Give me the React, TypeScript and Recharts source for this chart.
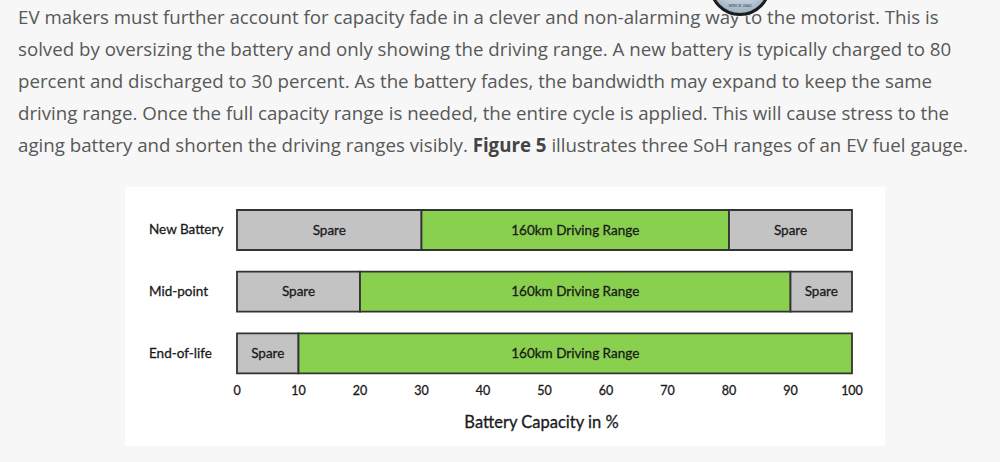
import React from 'react';
import { BarChart, Bar, XAxis, YAxis, LabelList, Label } from 'recharts';

const categories = ['New Battery', 'Mid-point', 'End-of-life'];
const spareLow = [30, 20, 10];
const driving = [50, 70, 90];
const spareHigh = [20, 10, 0];
const xTicks = [0, 10, 20, 30, 40, 50, 60, 70, 80, 90, 100];

const data = categories.map((name, i) => ({
  name,
  spareLow: spareLow[i],
  driving: driving[i],
  spareHigh: spareHigh[i],
}));

const GREY = '#c3c3c3';
const GREEN = '#8ad04f';
const EDGE = '#333333';
const INK = '#1a1a1a';
const chartFont = 'Lato, "Open Sans", sans-serif';

const inkStyle = { fontSize: 13.5, fill: INK, stroke: INK, strokeWidth: 0.3, fontFamily: chartFont };

const CategoryTick = (props: any) => {
  const { y, payload } = props;
  return (
    <text x={24} y={y} dy={4.5} textAnchor="start" style={inkStyle}>
      {payload.value}
    </text>
  );
};

const segLabel = (text: string) => (v: any) => (Number(v) > 0 ? text : '');

const App: React.FC = () => {
  return (
    <div
      style={{
        position: 'absolute',
        top: 0,
        left: 0,
        width: 1000,
        height: 462,
        background: '#f7f7f7',
        overflow: 'hidden',
      }}
    >
      <div
        style={{
          position: 'absolute',
          top: 1,
          left: 18,
          fontFamily: '"Open Sans", sans-serif',
          fontSize: 18.7,
          lineHeight: '32px',
          color: '#585858',
          whiteSpace: 'nowrap',
        }}
      >
        EV makers must further account for capacity fade in a clever and non-alarming way to the motorist. This is
        <br />
        solved by oversizing the battery and only showing the driving range. A new battery is typically charged to 80
        <br />
        percent and discharged to 30 percent. As the battery fades, the bandwidth may expand to keep the same
        <br />
        driving range. Once the full capacity range is needed, the entire cycle is applied. This will cause stress to the
        <br />
        aging battery and shorten the driving ranges visibly. <b style={{ color: '#444' }}>Figure 5</b> illustrates three SoH
        ranges of an EV fuel gauge.
      </div>

      {/* site badge peeking in at the top */}
      <div
        style={{
          position: 'absolute',
          left: 709,
          top: -46,
          width: 56,
          height: 56,
          borderRadius: '50%',
          border: '3px solid #1c1c1c',
          boxShadow: '0 0 0 1px #f7f7f7',
          background: 'radial-gradient(circle at 50% 35%, #eef3f7 0%, #b9c9d6 60%, #7f97ab 100%)',
        }}
      >
        <span
          style={{
            position: 'absolute',
            left: 0,
            right: 0,
            bottom: 5,
            textAlign: 'center',
            fontSize: 4.5,
            fontFamily: 'serif',
            color: '#1c1c1c',
          }}
        >
          SINCE 2003
        </span>
      </div>

      <div style={{ position: 'absolute', left: 125, top: 187, width: 760, height: 259, background: '#ffffff' }}>
        <BarChart
          width={760}
          height={259}
          data={data}
          layout="vertical"
          margin={{ top: 12, right: 33, bottom: 7, left: 0 }}
          barSize={40}
        >
          <XAxis
            type="number"
            domain={[0, 100]}
            ticks={xTicks}
            axisLine={false}
            tickLine={false}
            tickSize={0}
            tick={{ ...inkStyle, fontSize: 12.5 }}
            height={55}
          >
            <Label
              value="Battery Capacity in %"
              position="insideBottom"
              offset={11}
              dx={-3}
              style={{ ...inkStyle, fontSize: 16.5 }}
            />
          </XAxis>
          <YAxis
            type="category"
            dataKey="name"
            width={112}
            axisLine={false}
            tickLine={false}
            tick={<CategoryTick />}
          />
          <Bar dataKey="spareLow" stackId="a" fill={GREY} stroke={EDGE} strokeWidth={1.8} isAnimationActive={false}>
            <LabelList dataKey="spareLow" position="center" formatter={segLabel('Spare')} style={inkStyle} />
          </Bar>
          <Bar dataKey="driving" stackId="a" fill={GREEN} stroke={EDGE} strokeWidth={1.8} isAnimationActive={false}>
            <LabelList
              dataKey="driving"
              position="center"
              formatter={segLabel('160km Driving Range')}
              style={inkStyle}
            />
          </Bar>
          <Bar dataKey="spareHigh" stackId="a" fill={GREY} stroke={EDGE} strokeWidth={1.8} isAnimationActive={false}>
            <LabelList dataKey="spareHigh" position="center" formatter={segLabel('Spare')} style={inkStyle} />
          </Bar>
        </BarChart>
      </div>
    </div>
  );
};

export default App;
